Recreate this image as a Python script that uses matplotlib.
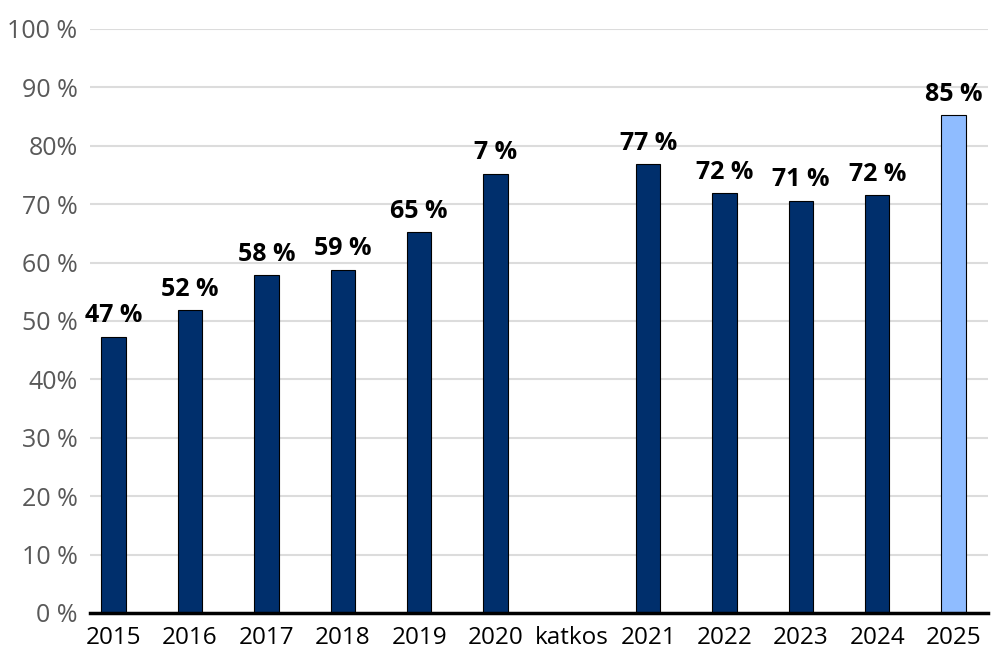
import numpy as np
import matplotlib.pyplot as plt

# data
categories = ['2015', '2016', '2017', '2018', '2019', '2020', 'katkos',
              '2021', '2022', '2023', '2024', '2025']
values = [47.3, 51.8, 57.9, 58.8, 65.2, 75.2, np.nan,
          76.9, 71.9, 70.6, 71.5, 85.3]
labels = ['47 %', '52 %', '58 %', '59 %', '65 %', '7 %', '',
          '77 %', '72 %', '71 %', '72 %', '85 %']
ytick_vals = [0, 10, 20, 30, 40, 50, 60, 70, 80, 90, 100]
ytick_labels = ['0 %', '10 %', '20 %', '30 %', '40%', '50 %',
                '60 %', '70 %', '80%', '90 %', '100 %']

dark = '#002f6c'
light = '#8fbcff'
colors = [dark] * 11 + [light]

plt.rcParams['font.family'] = ['Open Sans', 'DejaVu Sans']

fig = plt.figure(figsize=(9.91, 6.52), dpi=100)
ax = fig.add_axes([90 / 991, 1 - 613 / 652, 898 / 991, 584 / 652])

x = np.arange(len(categories))
bars = ax.bar(x, np.nan_to_num(values), width=0.32, color=colors,
              edgecolor='black', linewidth=0.8, zorder=3)

for xi, v, lab in zip(x, values, labels):
    if lab:
        ax.annotate(lab, (xi, v), xytext=(0, 6), textcoords='offset points',
                    ha='center', va='bottom', fontsize=18, fontweight='bold',
                    color='black')

ax.set_ylim(0, 100)
ax.set_xlim(-0.31, 11.45)
ax.set_yticks(ytick_vals)
ax.set_yticklabels(ytick_labels, fontsize=18, color='#595959')
ax.set_xticks(x)
ax.set_xticklabels(categories, fontsize=17.5, color='black')
ax.tick_params(axis='both', length=0)
ax.tick_params(axis='y', pad=9)
ax.tick_params(axis='x', pad=9)

ax.yaxis.grid(True, color='#dcdcdc', linewidth=1.5, zorder=0)
ax.set_axisbelow(True)
for s in ['top', 'right', 'left']:
    ax.spines[s].set_visible(False)
ax.spines['bottom'].set_linewidth(2.5)
ax.spines['bottom'].set_color('black')
ax.spines['bottom'].set_zorder(4)

fig.savefig('out.png', dpi=100)
